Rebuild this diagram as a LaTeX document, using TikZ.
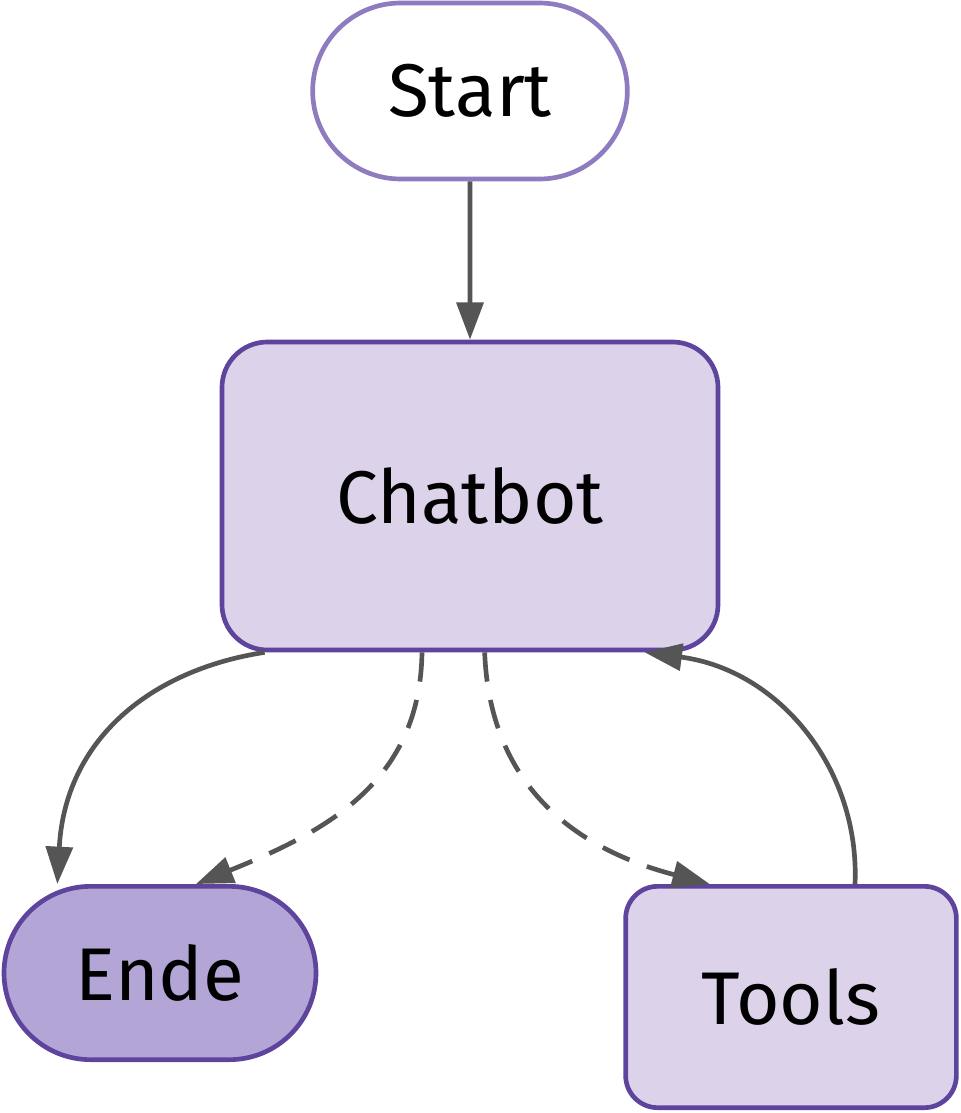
\documentclass[tikz,border=0pt]{standalone}
\usepackage{fontspec}
\setmainfont{Fira Sans}
\usetikzlibrary{shapes.misc,arrows.meta}
\definecolor{lilaRand}{HTML}{5E449C}
\definecolor{lilaHell}{HTML}{DCD3EA}
\definecolor{lilaEnde}{HTML}{B3A5D6}
\definecolor{startRand}{HTML}{8E7BC0}
\definecolor{pfeil}{HTML}{555555}
\tikzset{
  knoten/.style={draw=lilaRand, line width=3.5pt, fill=lilaHell, rounded corners=34pt, inner sep=0pt, font=\fontsize{56}{60}\selectfont},
  pille/.style={knoten, rounded rectangle, rounded corners=0pt},
  kante/.style={draw=pfeil, line width=3.5pt, -{Triangle[length=28pt,width=20pt]}},
  gestrichelt/.style={kante, dash pattern=on 22pt off 14pt}
}
\begin{document}
\begin{tikzpicture}[x=0.75pt,y=0.75pt,yscale=-1,xscale=1]
\useasboundingbox (0,0) rectangle (960,1113);

% Knoten
\node [pille, draw=startRand, fill=white, minimum width=236pt, minimum height=132pt] (start) at (470,91) {Start};
\node [knoten, minimum width=372pt, minimum height=231pt] (chatbot) at (470,496) {Chatbot};
\node [pille, fill=lilaEnde, minimum width=234pt, minimum height=130pt] (ende) at (160,973) {Ende};
\node [knoten, rounded corners=24pt, minimum width=248pt, minimum height=166pt] (tools) at (791,997) {Tools};

% Kanten
\draw [kante] (start) -- (chatbot);
\draw [kante] ([xshift=-154pt]chatbot.south) .. controls (150,670) and (65,740) .. ([xshift=-77pt]ende.north);
\draw [gestrichelt] ([xshift=-36pt]chatbot.south) .. controls (420,780) and (330,830) .. ([xshift=27pt]ende.north);
\draw [gestrichelt] ([xshift=11pt]chatbot.south) .. controls (490,790) and (580,850) .. ([xshift=-61pt]tools.north);
\draw [kante] ([xshift=48pt]tools.north) .. controls (860,770) and (780,670) .. ([xshift=131pt]chatbot.south);
\end{tikzpicture}
\end{document}
